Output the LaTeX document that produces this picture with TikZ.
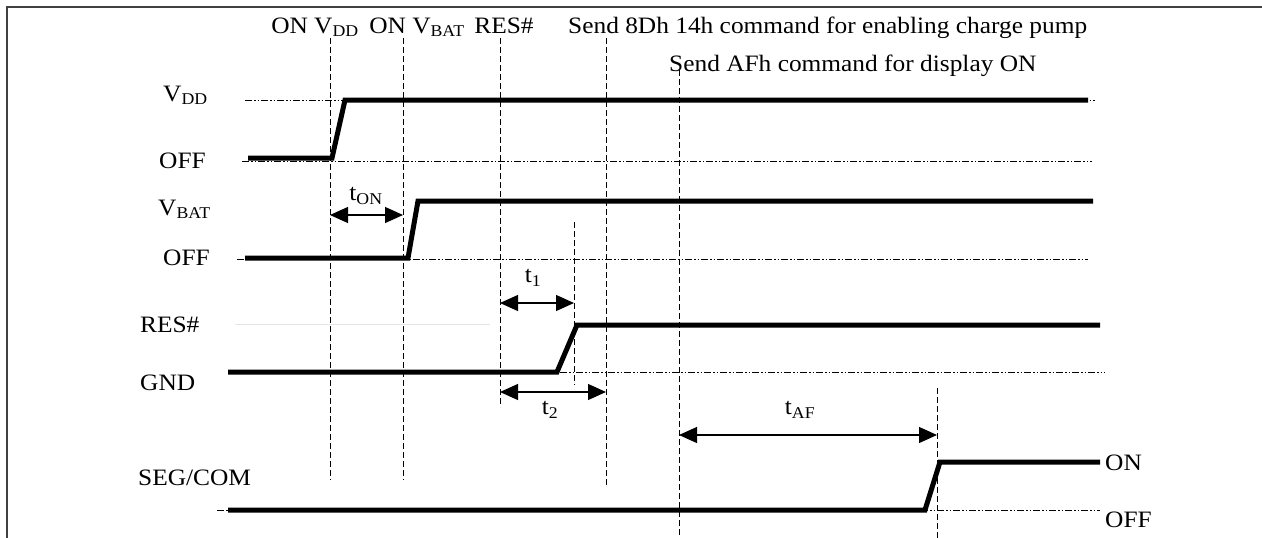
\documentclass[tikz,border=0pt]{standalone}
\usepackage{fontspec}
\setmainfont{Liberation Serif}[FakeStretch=1.08]
\usetikzlibrary{arrows.meta}

\tikzset{
  sig/.style={line width=5pt,line join=miter},
  guide/.style={line width=1pt,dash pattern=on 6pt off 3pt},
  lvl/.style={line width=0.9pt,dash pattern=on 7pt off 2pt on 1.5pt off 2pt on 1.5pt off 2pt},
  dim/.style={line width=1.2pt,{Triangle[length=18pt,width=16pt]}-{Triangle[length=18pt,width=16pt]}},
  lab/.style={font=\fontsize{23.5}{26}\selectfont,inner sep=0pt},
}

\begin{document}
\begin{tikzpicture}[x=1pt,y=-1pt,line cap=butt]
  \useasboundingbox (0,0) rectangle (1262,538);
  %frame
  \draw[line width=1.5pt,black!75] (7,538) -- (7,7) -- (1262,7);

  %vertical guides
  \foreach \n/\x/\ya/\yb in {onvdd/330/38/480, onvbat/403/38/480, res/500/38/407,
      cmd/606/38/486, afh/679/70/538, tone/574/222/385, tafe/937/388/538}{
    \coordinate (\n-t) at (\x,\ya);
    \coordinate (\n-b) at (\x,\yb);
    \draw[guide] (\n-t) -- (\n-b);
  }

  %level lines
  \draw[lvl] (245,100) -- (1095,100);
  \draw[lvl] (242,161) -- (1092,161);
  \draw[lvl] (237,259) -- (1088,259);
  \draw[lvl] (560,372) -- (1105,372);
  \draw[lvl] (217,510) -- (1100,510);
  \draw[black!10,line width=1pt] (235,324) -- (490,324);

  %signals
  \draw[sig] (248,158) -- (332,158) -- (345,100) -- (1088,100);
  \draw[sig] (245,258) -- (408,258) -- (418,201) -- (1093,201);
  \draw[sig] (228,372) -- (557,372) -- (577,325) -- (1100,325);
  \draw[sig] (228,510) -- (925,510) -- (940,462) -- (1100,462);

  %top labels
  \node[lab,anchor=base] (lonvdd) at (315,33) {ON V\textsubscript{DD}};
  \node[lab,anchor=base] (lonvbat) at (417,33) {ON V\textsubscript{BAT}};
  \node[lab,anchor=base] (lres) at (504,33) {RES\#};
  \node[lab,anchor=base west] (lcmd) at (568,33) {Send 8Dh 14h command for enabling charge pump};
  \node[lab,anchor=base west] (lafh) at (669,71) {Send AFh command for display ON};

  %signal names
  \node[lab,anchor=base west] (nvdd) at (163,101) {V\textsubscript{DD}};
  \node[lab,anchor=base west] (noff1) at (159,168) {OFF};
  \node[lab,anchor=base west] (nvbat) at (158,215) {V\textsubscript{BAT}};
  \node[lab,anchor=base west] (noff2) at (163,265) {OFF};
  \node[lab,anchor=base west] (nres) at (140,332) {RES\#};
  \node[lab,anchor=base west] (ngnd) at (140,390) {GND};
  \node[lab,anchor=base west] (nseg) at (138,485) {SEG/COM};
  \node[lab,anchor=base west] (non) at (1105,470) {ON};
  \node[lab,anchor=base west] (noff3) at (1105,527) {OFF};

  %timings
  \draw[dim] (onvdd-t |- 0,215) -- (onvbat-t |- 0,215);
  \node[lab] (ton) at (366,196) {t\textsubscript{ON}};
  \draw[dim] (res-t |- 0,303) -- (tone-t |- 0,303);
  \node[lab] (tt1) at (533,278) {t\textsubscript{1}};
  \draw[dim] (res-t |- 0,392) -- (cmd-t |- 0,392);
  \node[lab] (tt2) at (550,410) {t\textsubscript{2}};
  \draw[dim] (afh-t |- 0,435) -- (tafe-t |- 0,435);
  \node[lab] (taf) at (800,410) {t\textsubscript{AF}};
\end{tikzpicture}
\end{document}
